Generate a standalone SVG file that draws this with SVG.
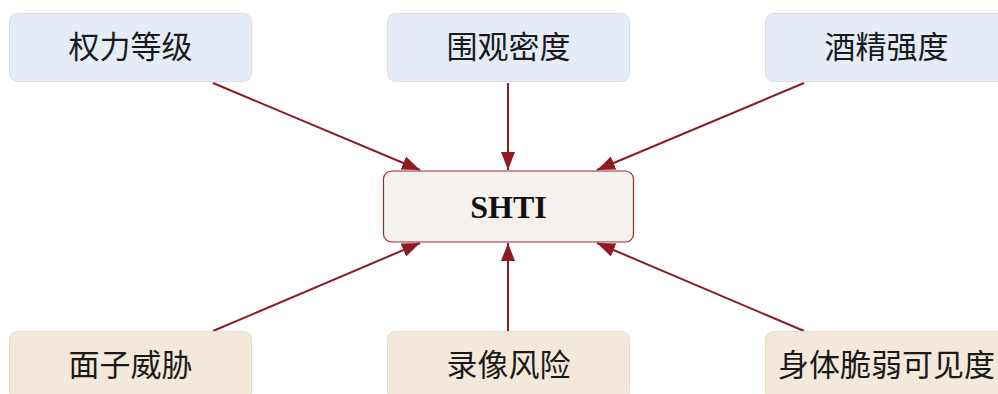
<svg xmlns="http://www.w3.org/2000/svg" width="998" height="394" viewBox="0 0 998 394">
<defs>
<marker id="a" viewBox="0 0 18 14" refX="18" refY="7" markerWidth="18" markerHeight="14" markerUnits="userSpaceOnUse" orient="auto">
<path d="M0,0 L18,7 L0,14 z" fill="#8E1B22"/>
</marker>
</defs>
<style>
.top{fill:#E6ECF6;stroke:#D9DEE7;stroke-width:1}
.bot{fill:#F3E9DB;stroke:#E2DAD0;stroke-width:1}
.ctr{fill:#F5F2EE;stroke:#9B2A30;stroke-width:1.2}
.lbl{font-family:"Liberation Serif","Noto Sans CJK SC",serif;font-size:31px;fill:#1a1a1a;text-anchor:middle;dominant-baseline:central}
.main{font-family:"Liberation Serif","Noto Sans CJK SC",serif;font-size:32px;font-weight:bold;fill:#111;text-anchor:middle;dominant-baseline:central}
.edge{stroke:#8E1B22;stroke-width:2;fill:none;marker-end:url(#a)}
</style>
<g id="connectors">
<line class="edge" x1="213" y1="83" x2="420" y2="170"/>
<line class="edge" x1="508" y1="83" x2="508" y2="170"/>
<line class="edge" x1="804" y1="83" x2="597" y2="170"/>
<line class="edge" x1="213" y1="331" x2="420" y2="243"/>
<line class="edge" x1="508" y1="331" x2="508" y2="243"/>
<line class="edge" x1="804" y1="331" x2="597" y2="243"/>
</g>
<g id="n1"><rect class="top" x="9.5" y="13.5" width="242" height="68" rx="8"/><text class="lbl" x="130.5" y="47.5">权力等级</text></g>
<g id="n2"><rect class="top" x="387.5" y="13.5" width="242" height="68" rx="8"/><text class="lbl" x="508.5" y="47.5">围观密度</text></g>
<g id="n3"><rect class="top" x="765.5" y="13.5" width="242" height="68" rx="8"/><text class="lbl" x="886.5" y="47.5">酒精强度</text></g>
<g id="center"><rect class="ctr" x="383.5" y="171" width="250" height="71" rx="8"/><text class="main" x="508.5" y="206.5">SHTI</text></g>
<g id="n4"><rect class="bot" x="9.5" y="331.5" width="242" height="68" rx="8"/><text class="lbl" x="130.5" y="365.5">面子威胁</text></g>
<g id="n5"><rect class="bot" x="387.5" y="331.5" width="242" height="68" rx="8"/><text class="lbl" x="508.5" y="365.5">录像风险</text></g>
<g id="n6"><rect class="bot" x="765.5" y="331.5" width="242" height="68" rx="8"/><text class="lbl" x="886.5" y="365.5">身体脆弱可见度</text></g>
</svg>
